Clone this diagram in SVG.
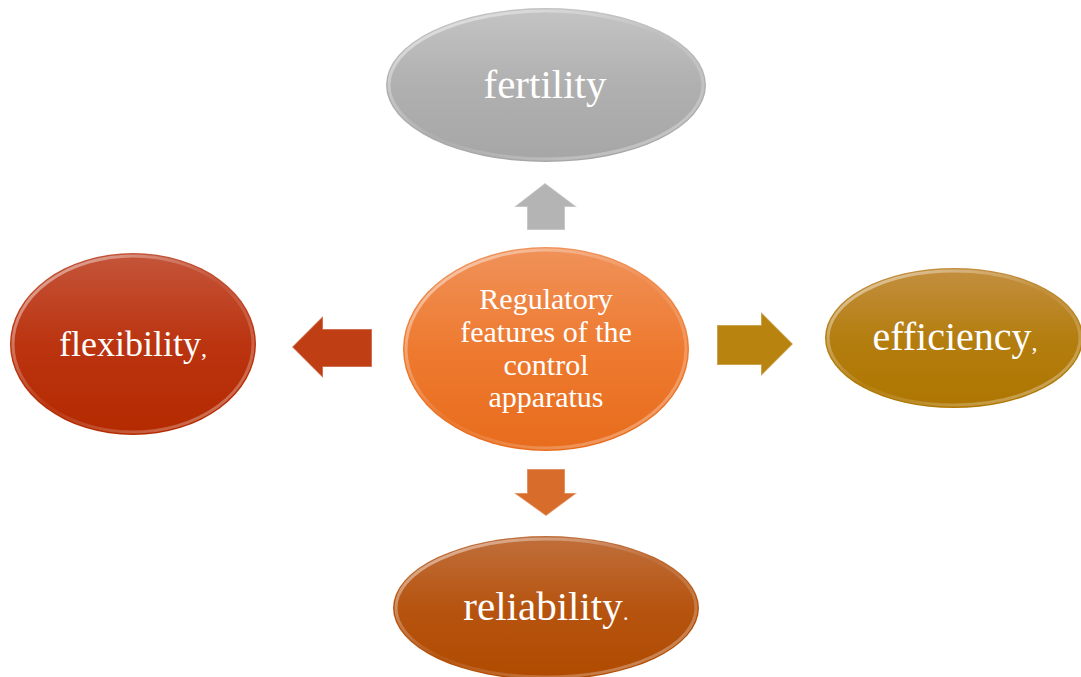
<svg xmlns="http://www.w3.org/2000/svg" width="1081" height="677" viewBox="0 0 1081 677">
<defs>
<linearGradient id="gGray" x1="0" y1="0" x2="0" y2="1"><stop offset="0" stop-color="#c4c4c4"/><stop offset="0.5" stop-color="#b0b0b0"/><stop offset="1" stop-color="#a6a6a6"/></linearGradient>
<linearGradient id="gRed" x1="0" y1="0" x2="0" y2="1"><stop offset="0" stop-color="#c4553a"/><stop offset="0.5" stop-color="#bb3410"/><stop offset="1" stop-color="#b42a00"/></linearGradient>
<linearGradient id="gGold" x1="0" y1="0" x2="0" y2="1"><stop offset="0" stop-color="#c38f40"/><stop offset="0.5" stop-color="#b47e10"/><stop offset="1" stop-color="#ae7600"/></linearGradient>
<linearGradient id="gOrange" x1="0" y1="0" x2="0" y2="1"><stop offset="0" stop-color="#f0925a"/><stop offset="0.5" stop-color="#ee7a30"/><stop offset="1" stop-color="#e86c1c"/></linearGradient>
<linearGradient id="gBrown" x1="0" y1="0" x2="0" y2="1"><stop offset="0" stop-color="#c06f3c"/><stop offset="0.5" stop-color="#b65410"/><stop offset="1" stop-color="#b04a00"/></linearGradient>
<linearGradient id="gHi" x1="0" y1="0" x2="1" y2="1"><stop offset="0" stop-color="#ffffff" stop-opacity="0.6"/><stop offset="0.5" stop-color="#ffffff" stop-opacity="0.05"/><stop offset="1" stop-color="#ffffff" stop-opacity="0.4"/></linearGradient>
</defs>
<style>
.hi{fill:none;stroke:url(#gHi);stroke-width:3}
.lbl{font-family:"Liberation Serif","Times New Roman",serif;fill:#ffffff;text-anchor:middle}
.arr{stroke:#ffffff;stroke-opacity:0.35;stroke-width:1.5}
</style>
<g id="connectors">
<polygon class="arr" fill="#b4b4b4" points="514,207 545,183 577,207 565,207 565,230 527,230 527,207"/>
<polygon class="arr" fill="#c03e14" points="292,347 323,316 323,329 372,329 372,367 323,367 323,378"/>
<polygon class="arr" fill="#b8830f" points="717,325 761,325 761,312 793,344 761,376 761,365 717,365"/>
<polygon class="arr" fill="#d86c2a" points="527,469 565,469 565,493 577,493 546,516 514,493 527,493"/>
</g>
<g id="node-fertility">
<ellipse cx="546" cy="85" rx="160" ry="77" fill="url(#gGray)"/>
<ellipse class="hi" cx="546" cy="85" rx="157" ry="74"/>
<text class="lbl" x="545" y="98" font-size="41">fertility</text>
</g>
<g id="node-flexibility">
<ellipse cx="133" cy="344" rx="123" ry="91" fill="url(#gRed)"/>
<ellipse class="hi" cx="133" cy="344" rx="120" ry="88"/>
<text class="lbl" x="133" y="356" font-size="36">flexibility<tspan font-size="24">,</tspan></text>
</g>
<g id="node-efficiency">
<ellipse cx="954" cy="338" rx="129" ry="70" fill="url(#gGold)"/>
<ellipse class="hi" cx="954" cy="338" rx="126" ry="67"/>
<text class="lbl" x="955" y="350" font-size="40">efficiency<tspan font-size="24">,</tspan></text>
</g>
<g id="node-center">
<ellipse cx="546" cy="349" rx="143" ry="102" fill="url(#gOrange)"/>
<ellipse class="hi" cx="546" cy="349" rx="140" ry="99"/>
<text class="lbl" font-size="30"><tspan x="546" y="309">Regulatory</tspan><tspan x="546" y="342">features of the</tspan><tspan x="546" y="375">control</tspan><tspan x="546" y="407">apparatus</tspan></text>
</g>
<g id="node-reliability">
<ellipse cx="546" cy="608" rx="153" ry="72" fill="url(#gBrown)"/>
<ellipse class="hi" cx="546" cy="608" rx="150" ry="69"/>
<text class="lbl" x="546" y="620" font-size="41">reliability<tspan font-size="24">.</tspan></text>
</g>
</svg>
